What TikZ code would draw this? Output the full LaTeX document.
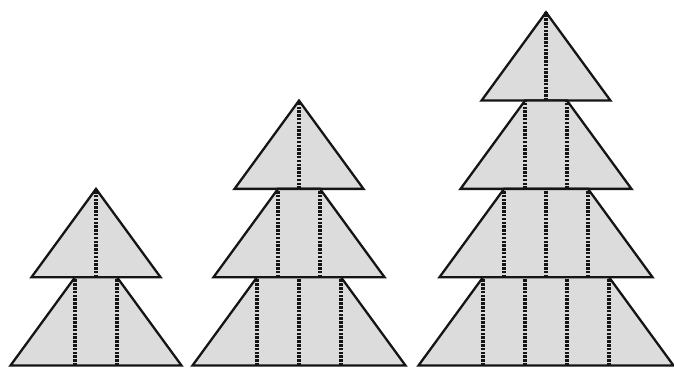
\documentclass[tikz,border=0pt]{standalone}
\usetikzlibrary{calc}
\definecolor{cTreeF}{HTML}{DCDCDC}
\definecolor{cTreeD}{HTML}{151515}
\tikzset{
  tier/.style  = {fill=cTreeF, draw=cTreeD, line width=2.3pt, line join=miter},
  stick/.style = {cTreeD, line width=3.6pt, dash pattern=on 2.5pt off 1.3pt},
}
\newcommand{\tierh}{88.3}

\begin{document}
\begin{tikzpicture}[x=1pt, y=1pt]
  \useasboundingbox (0,0) rectangle (674,367);
  % three trees with 2, 3 and 4 tiers
  \foreach \cx/\n in {96/2, 299/3, 546/4} {
    \foreach \k in {1,...,\n} {
      \pgfmathsetmacro{\ybot}{1.5+(\n-\k)*\tierh}
      \pgfmathsetmacro{\ytop}{\ybot+\tierh}
      \pgfmathsetmacro{\topw}{21*(\k-1)}
      \pgfmathsetmacro{\botw}{\topw+64.5}
      \draw[tier] (\cx-\botw,\ybot) -- (\cx+\botw,\ybot)
        -- (\cx+\topw,\ytop) -- (\cx-\topw,\ytop) -- cycle;
      \foreach \j in {1,...,\k}
        \draw[stick] (\cx-\topw+42*\j-42,\ybot) -- (\cx-\topw+42*\j-42,\ytop);
    }
  }
\end{tikzpicture}
\end{document}
